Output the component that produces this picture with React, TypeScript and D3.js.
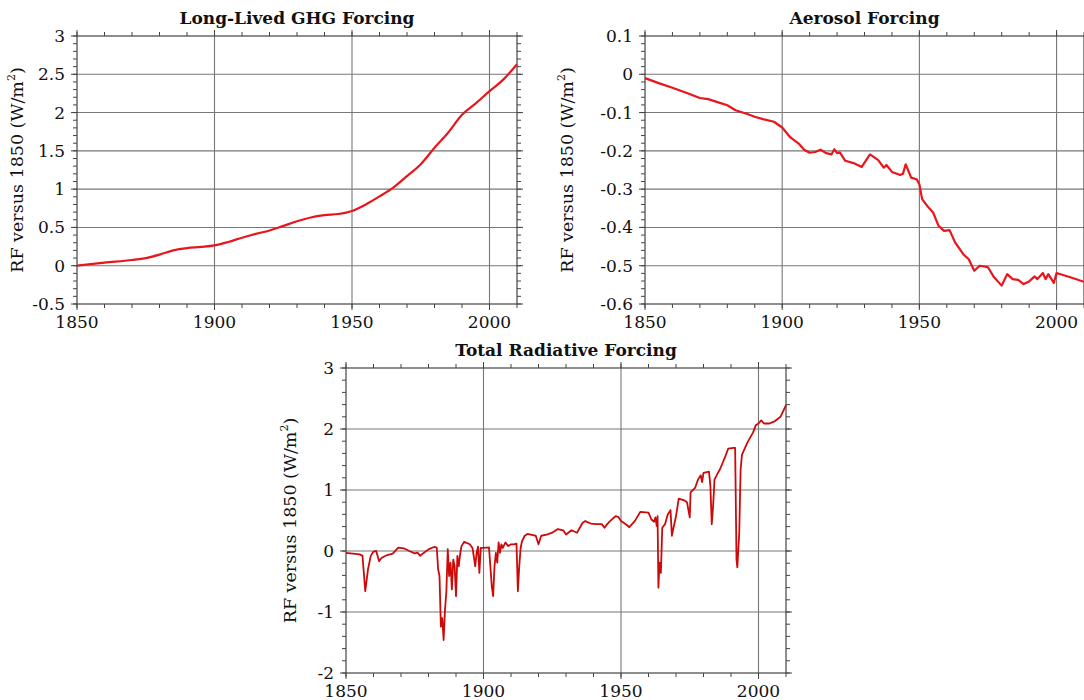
import React from "react";
import * as d3 from "d3";

// Long-lived greenhouse gas forcing (W/m2 relative to 1850)
const ghgYears = [1850, 1860, 1870, 1875, 1880, 1885, 1890, 1895, 1900, 1905, 1910, 1915, 1920, 1925, 1930, 1935, 1940, 1945, 1950, 1955, 1960, 1965, 1970, 1975, 1980, 1985, 1990, 1995, 2000, 2005, 2010];
const ghgValues = [0, 0.04, 0.075, 0.1, 0.145, 0.2, 0.23, 0.245, 0.265, 0.31, 0.365, 0.415, 0.46, 0.52, 0.58, 0.63, 0.66, 0.675, 0.715, 0.8, 0.905, 1.02, 1.17, 1.325, 1.54, 1.74, 1.97, 2.12, 2.28, 2.43, 2.63];

// Aerosol forcing
const aerosolYears = [1850, 1855, 1860, 1865, 1870, 1873, 1877, 1880, 1883, 1887, 1890, 1893, 1897, 1900, 1903, 1906, 1908, 1910, 1912, 1914, 1916, 1918, 1919, 1920, 1921, 1923, 1926, 1929, 1932, 1935, 1937, 1938, 1940, 1943, 1944, 1945, 1947, 1949, 1950, 1951, 1953, 1955, 1957, 1959, 1961, 1963, 1966, 1968, 1970, 1972, 1975, 1977, 1980, 1982, 1984, 1986, 1988, 1990, 1992, 1993, 1995, 1996, 1997, 1999, 2000, 2005, 2010];
const aerosolValues = [-0.01, -0.023, -0.035, -0.048, -0.062, -0.065, -0.074, -0.081, -0.094, -0.103, -0.111, -0.117, -0.124, -0.139, -0.165, -0.181, -0.197, -0.205, -0.203, -0.197, -0.206, -0.209, -0.196, -0.206, -0.204, -0.226, -0.232, -0.242, -0.209, -0.224, -0.244, -0.237, -0.255, -0.263, -0.26, -0.235, -0.27, -0.274, -0.287, -0.326, -0.345, -0.361, -0.396, -0.409, -0.407, -0.439, -0.47, -0.483, -0.513, -0.5, -0.504, -0.528, -0.552, -0.522, -0.535, -0.537, -0.548, -0.541, -0.528, -0.535, -0.519, -0.535, -0.522, -0.545, -0.519, -0.53, -0.542];

// Total radiative forcing
const totalYears = [1850, 1855, 1856, 1857, 1858, 1859, 1860, 1861, 1862, 1863, 1865, 1867, 1869, 1871, 1873, 1875, 1876, 1877, 1878, 1880, 1882, 1883, 1883.5, 1884, 1884.5, 1885, 1885.5, 1886, 1886.5, 1887, 1887.5, 1888, 1888.5, 1889, 1889.5, 1890, 1890.5, 1891, 1891.5, 1892, 1893, 1895, 1896, 1897, 1897.5, 1898, 1898.5, 1899, 1900, 1902, 1903, 1903.5, 1904, 1904.5, 1905, 1905.5, 1906, 1906.5, 1907, 1908, 1909, 1910, 1911, 1912, 1912.5, 1913, 1913.5, 1914, 1915, 1916, 1918, 1919, 1920, 1921, 1923, 1925, 1927, 1929, 1930, 1932, 1934, 1936, 1937, 1939, 1941, 1943, 1944, 1945, 1946, 1948, 1949, 1950, 1952, 1953, 1954, 1955, 1957, 1960, 1961, 1962, 1962.5, 1963, 1963.3, 1963.6, 1964, 1964.5, 1965, 1966, 1967, 1968, 1968.5, 1969, 1970, 1971, 1973, 1974, 1975, 1975.3, 1977, 1978, 1979, 1979.5, 1980, 1982, 1982.5, 1983, 1983.5, 1984, 1985, 1986, 1988, 1989, 1991, 1991.5, 1992, 1992.3, 1993, 1993.5, 1994, 1996, 1998, 1999, 2000, 2001, 2002, 2004, 2006, 2008, 2010];
const totalValues = [-0.03, -0.055, -0.08, -0.66, -0.3, -0.08, -0.01, 0, -0.165, -0.11, -0.066, -0.044, 0.055, 0.044, 0, -0.038, -0.027, -0.08, -0.04, 0.027, 0.066, 0.055, -0.3, -0.41, -1.24, -1.1, -1.46, -0.96, -0.66, 0.03, -0.41, -0.19, -0.63, -0.14, -0.25, -0.74, -0.08, -0.25, -0.05, 0.08, 0.15, 0.11, 0.05, -0.25, -0.03, 0.07, -0.36, 0.05, 0.05, 0.06, -0.57, -0.74, -0.25, -0.03, -0.19, 0.14, -0.03, 0.11, 0.05, 0.14, 0.08, 0.11, 0.11, 0.12, -0.66, -0.25, 0.05, 0.16, 0.25, 0.28, 0.26, 0.25, 0.11, 0.25, 0.27, 0.3, 0.36, 0.34, 0.27, 0.34, 0.3, 0.46, 0.49, 0.45, 0.44, 0.44, 0.38, 0.44, 0.49, 0.57, 0.56, 0.49, 0.43, 0.39, 0.44, 0.49, 0.64, 0.63, 0.52, 0.48, 0.55, 0.41, 0.57, -0.6, -0.19, -0.36, 0.38, 0.44, 0.6, 0.67, 0.25, 0.36, 0.57, 0.86, 0.83, 0.8, 0.55, 0.96, 1.04, 1.17, 1.24, 1.13, 1.28, 1.3, 1.07, 0.44, 0.74, 1.17, 1.26, 1.34, 1.56, 1.68, 1.69, 1.69, -0.14, -0.27, 0.3, 1.34, 1.58, 1.78, 1.94, 2.06, 2.09, 2.14, 2.09, 2.09, 2.13, 2.2, 2.39];

const xMajorTicks = [1850, 1900, 1950, 2000];
const ghgTicks = [-0.5, 0, 0.5, 1, 1.5, 2, 2.5, 3];
const aerosolTicks = [-0.6, -0.5, -0.4, -0.3, -0.2, -0.1, 0, 0.1];
const totalTicks = [-2, -1, 0, 1, 2, 3];

const FONT = "'DejaVu Serif', 'Liberation Serif', serif";

type PanelProps = {
  title: string;
  years: number[];
  values: number[];
  left: number;
  right: number;
  top: number;
  bottom: number;
  yTicks: number[];
  yMinor: number;
  color: string;
  lineWidth: number;
  labelOffset: number;
  smooth?: boolean;
};

const Panel = ({ title, years, values, left, right, top, bottom, yTicks, yMinor, color, lineWidth, labelOffset, smooth }: PanelProps) => {
  const x = d3.scaleLinear().domain([1850, 2010]).range([left, right]);
  const yMin = d3.min(yTicks) as number;
  const yMax = d3.max(yTicks) as number;
  const y = d3.scaleLinear().domain([yMin, yMax]).range([bottom, top]);

  const line = d3
    .line<number>()
    .x((_, i) => x(years[i]))
    .y((d) => y(d))
    .curve(smooth ? d3.curveMonotoneX : d3.curveLinear);

  const xMinor = d3.range(1850, 2011, 10);
  const nMinor = Math.round((yMax - yMin) / yMinor);
  const yMinorTicks = d3.range(nMinor + 1).map((i) => yMin + i * yMinor);

  const grid = "#777";
  const axis = "#444";
  const midY = (top + bottom) / 2;
  const labelX = left - labelOffset;

  return (
    <g>
      {/* grid */}
      {xMajorTicks
        .filter((t) => t > 1850)
        .map((t) => (
          <line key={"gx" + t} x1={x(t)} x2={x(t)} y1={top} y2={bottom} stroke={grid} strokeWidth={1.1} />
        ))}
      {yTicks
        .filter((t) => t > yMin && t < yMax)
        .map((t) => (
          <line key={"gy" + t} x1={left} x2={right} y1={y(t)} y2={y(t)} stroke={grid} strokeWidth={1.1} />
        ))}

      {/* minor ticks, outward on all sides */}
      {xMinor.map((t) => (
        <g key={"mx" + t} stroke={axis} strokeWidth={1}>
          <line x1={x(t)} x2={x(t)} y1={bottom} y2={bottom + 4} />
          <line x1={x(t)} x2={x(t)} y1={top} y2={top - 4} />
        </g>
      ))}
      {yMinorTicks.map((t, i) => (
        <g key={"my" + i} stroke={axis} strokeWidth={1}>
          <line x1={left} x2={left - 4} y1={y(t)} y2={y(t)} />
          <line x1={right} x2={right + 4} y1={y(t)} y2={y(t)} />
        </g>
      ))}
      {xMajorTicks.map((t) => (
        <g key={"Mx" + t} stroke={axis} strokeWidth={1}>
          <line x1={x(t)} x2={x(t)} y1={bottom} y2={bottom + 6} />
          <line x1={x(t)} x2={x(t)} y1={top} y2={top - 6} />
        </g>
      ))}
      {yTicks.map((t) => (
        <g key={"My" + t} stroke={axis} strokeWidth={1}>
          <line x1={left} x2={left - 6} y1={y(t)} y2={y(t)} />
          <line x1={right} x2={right + 6} y1={y(t)} y2={y(t)} />
        </g>
      ))}

      <rect x={left} y={top} width={right - left} height={bottom - top} fill="none" stroke={axis} strokeWidth={1.2} />

      {/* data */}
      <path d={line(values) || ""} fill="none" stroke={color} strokeWidth={lineWidth} strokeLinejoin="round" />

      {/* tick labels */}
      {xMajorTicks.map((t) => (
        <text key={"lx" + t} x={x(t)} y={bottom + 24} textAnchor="middle" fontFamily={FONT} fontSize={17} fill="#111">
          {t}
        </text>
      ))}
      {yTicks.map((t) => (
        <text key={"ly" + t} x={left - 12} y={y(t) + 6} textAnchor="end" fontFamily={FONT} fontSize={17} fill="#111">
          {String(t)}
        </text>
      ))}

      {/* axis label */}
      <text
        transform={`translate(${labelX},${midY}) rotate(-90)`}
        textAnchor="middle"
        fontFamily={FONT}
        fontSize={17.5}
        fill="#111"
      >
        RF versus 1850 (W/m
        <tspan dy={-8} fontSize={11}>2</tspan>
        <tspan dy={8}>)</tspan>
      </text>

      {/* title */}
      <text x={(left + right) / 2} y={top - 12} textAnchor="middle" fontFamily={FONT} fontWeight="bold" fontSize={17} fill="#111">
        {title}
      </text>
    </g>
  );
};

export default function App() {
  return (
    <svg width={1084} height={700} style={{ position: "absolute", left: 0, top: 0, background: "#fff" }}>
      <Panel
        title="Long-Lived GHG Forcing"
        years={ghgYears}
        values={ghgValues}
        left={77}
        right={517}
        top={36}
        bottom={304}
        yTicks={ghgTicks}
        yMinor={0.1}
        color="#e8161b"
        lineWidth={2.2}
        labelOffset={54}
        smooth
      />
      <Panel
        title="Aerosol Forcing"
        years={aerosolYears}
        values={aerosolValues}
        left={645}
        right={1084}
        top={36}
        bottom={304}
        yTicks={aerosolTicks}
        yMinor={0.02}
        color="#e8161b"
        lineWidth={2.2}
        labelOffset={72}
      />
      <Panel
        title="Total Radiative Forcing"
        years={totalYears}
        values={totalValues}
        left={346}
        right={786}
        top={368}
        bottom={673}
        yTicks={totalTicks}
        yMinor={0.2}
        color="#cc0a0a"
        lineWidth={1.8}
        labelOffset={50}
      />
    </svg>
  );
}
